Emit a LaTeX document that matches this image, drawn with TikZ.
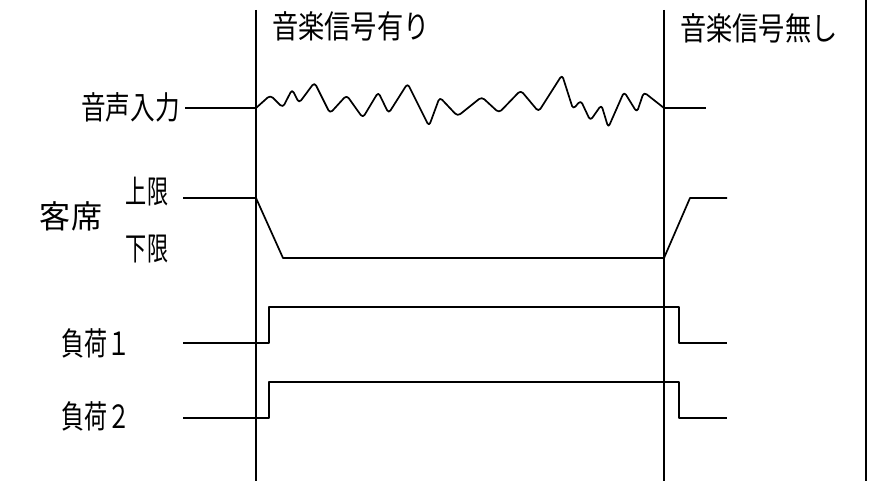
\documentclass[tikz,border=0pt]{standalone}
\usepackage{fontspec}
\newfontfamily\cjkhead[FakeStretch=0.82]{Noto Sans CJK JP}
\newfontfamily\cjkwide[FakeStretch=0.97]{Noto Sans CJK JP}
\newfontfamily\cjkmid[FakeStretch=0.72]{Noto Sans CJK JP}
\newfontfamily\cjknarrow[FakeStretch=0.66]{Noto Sans CJK JP}
\newfontfamily\cjkin[FakeStretch=0.77]{Noto Sans CJK JP}
\begin{document}
\begin{tikzpicture}[x=1pt,y=-1pt,
  lbl/.style={inner sep=0pt,font=\cjkhead\fontsize{32}{34}\selectfont},
  lbli/.style={inner sep=0pt,font=\cjkin\fontsize{32}{34}\selectfont},
  lblw/.style={inner sep=0pt,font=\cjkwide\fontsize{32}{34}\selectfont},
  lblm/.style={inner sep=0pt,font=\cjkmid\fontsize{32}{34}\selectfont},
  lbls/.style={inner sep=0pt,font=\cjknarrow\fontsize{32}{34}\selectfont},
  sig/.style={line width=1.7pt,line join=round},
  vline/.style={line width=1.7pt}]
\useasboundingbox (0,0) rectangle (884,481);
% vertical markers
\coordinate (a1) at (256,10); \coordinate (a2) at (256,481);
\coordinate (b1) at (664,10); \coordinate (b2) at (664,481);
\coordinate (c1) at (866,0);  \coordinate (c2) at (866,481);
\draw[vline] (a1) -- (a2);
\draw[vline] (b1) -- (b2);
\draw[vline] (c1) -- (c2);
% headings
\node[lbl,anchor=west] (h1) at (272,26) {音楽信号有り};
\node[lbl,anchor=west] (h2) at (680,28) {音楽信号無し};
% row labels
\node[lbli,anchor=east] (in) at (180,107) {音声入力};
\node[lblw] (kyaku) at (71,216) {客席};
\node[lbls] (up) at (147,192) {上限};
\node[lbls] (lo) at (147,249) {下限};
\node[lblm,anchor=west] (l1) at (61,343) {負荷１};
\node[lblm,anchor=west] (l2) at (61,416) {負荷２};
% audio input
\coordinate (i0) at (185,108); \coordinate (i1) at (256,108);
\coordinate (i2) at (664,108); \coordinate (i3) at (706,108);
\draw[sig] (i0) -- (i1);
\draw[sig] (i2) -- (i3);
\draw[sig,rounded corners=3.5pt] (i1) -- (270.3,95.2) -- (282.8,107.6) -- (292.1,89.3) -- (299,103.1)
  -- (314.5,82.4) -- (330,113.4) -- (346.6,95.2) -- (362.8,117.9) -- (378.3,92.1)
  -- (388.6,113.4) -- (407.6,83.4) -- (429,126.2) -- (439.7,97.2) -- (457.6,116.2)
  -- (481.7,96.9) -- (499,112.8) -- (520.7,90.3) -- (538.6,111.7) -- (562.1,74.8)
  -- (573.1,109.3) -- (580.7,100.3) -- (590.3,120.7) -- (601.4,104.8) -- (608.3,127.6)
  -- (624.1,91.7) -- (636.9,112.4) -- (643.8,92.1) -- (i2);
% audience level
\coordinate (k0) at (183,198); \coordinate (k1) at (256,198);
\coordinate (k2) at (283,258); \coordinate (k3) at (664,258);
\coordinate (k4) at (690,198); \coordinate (k5) at (727,198);
\draw[sig] (k0) -- (k1) -- (k2) -- (k3) -- (k4) -- (k5);
% load 1
\coordinate (p0) at (183,343); \coordinate (p1) at (269,343);
\coordinate (p2) at (269,307); \coordinate (p3) at (679,307);
\coordinate (p4) at (679,343); \coordinate (p5) at (727,343);
\draw[sig] (p0) -- (p1) -- (p2) -- (p3) -- (p4) -- (p5);
% load 2
\coordinate (q0) at (183,418); \coordinate (q1) at (269,418);
\coordinate (q2) at (269,382); \coordinate (q3) at (679,382);
\coordinate (q4) at (679,418); \coordinate (q5) at (727,418);
\draw[sig] (q0) -- (q1) -- (q2) -- (q3) -- (q4) -- (q5);
\end{tikzpicture}
\end{document}
